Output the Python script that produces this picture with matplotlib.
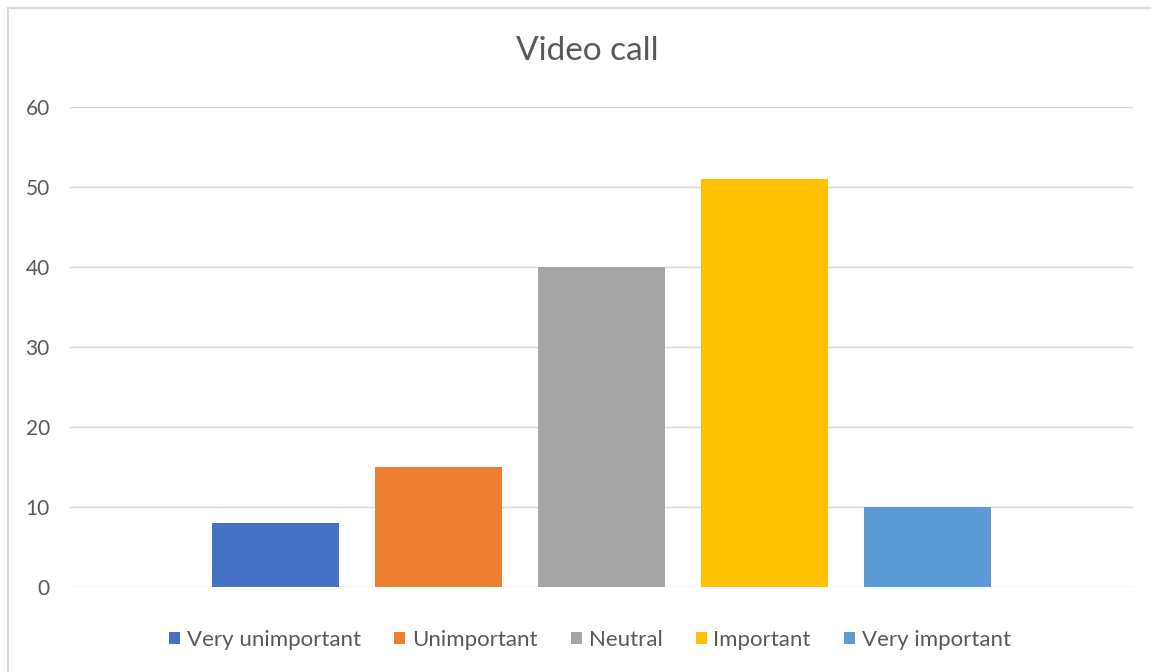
import matplotlib.pyplot as plt
from matplotlib.lines import Line2D
from matplotlib.patches import Patch

labels = ['Very unimportant', 'Unimportant', 'Neutral', 'Important', 'Very important']
counts = [8, 15, 40, 51, 10]
colors = ['#4472C4', '#ED7D31', '#A5A5A5', '#FFC000', '#5B9BD5']

plt.rcParams['font.family'] = ['Lato', 'DejaVu Sans']
text_col = '#595959'

fig = plt.figure(figsize=(11.51, 6.72), dpi=100)
ax = fig.add_axes([70 / 1151, 1 - 587 / 672, (1133 - 70) / 1151, 480 / 672])

x = range(len(labels))
ax.bar(x, counts, width=0.78, color=colors, zorder=3)
ax.set_xlim(-1.26, 5.26)
ax.set_ylim(0, 60)
ax.set_yticks(range(0, 61, 10))
ax.set_xticks([])
ax.grid(axis='y', color='#D9D9D9', linewidth=1, zorder=0)
for s in ax.spines.values():
    s.set_visible(False)
ax.tick_params(axis='y', length=0, pad=14.5, labelsize=15, labelcolor=text_col)

fig.text(587 / 1151, 1 - 51 / 672, 'Video call', ha='center', va='center',
         fontsize=24, color=text_col)

handles = [Patch(facecolor=c, edgecolor='none') for c in colors]
fig.legend(handles, labels, loc='center', bbox_to_anchor=(590 / 1151, 1 - 640 / 672),
           ncol=5, frameon=False, fontsize=16, labelcolor=text_col,
           handlelength=0.5, handleheight=0.5, handletextpad=0.3, columnspacing=1.5)

# outer chart frame (top and left edges)
fig.add_artist(Line2D([8 / 1151, 8 / 1151], [0, 1 - 8 / 672], color='#D9D9D9', lw=1.5))
fig.add_artist(Line2D([8 / 1151, 1], [1 - 8 / 672, 1 - 8 / 672], color='#D9D9D9', lw=1.5))

fig.savefig('out.png', dpi=100)
